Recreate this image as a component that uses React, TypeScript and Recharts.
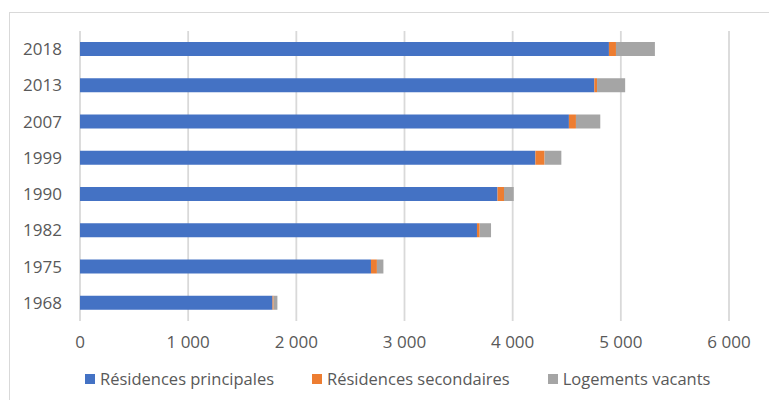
import { BarChart, Bar, XAxis, YAxis, CartesianGrid } from 'recharts';

const years = ['2018', '2013', '2007', '1999', '1990', '1982', '1975', '1968'];
const principales = [4890, 4755, 4520, 4210, 3860, 3670, 2690, 1780];
const secondaires = [65, 25, 65, 85, 60, 25, 55, 10];
const vacants = [360, 260, 225, 155, 90, 105, 60, 35];
const xTicks = [0, 1000, 2000, 3000, 4000, 5000, 6000];

const series = [
  { key: 'principales', label: 'Résidences principales', color: '#4472C4' },
  { key: 'secondaires', label: 'Résidences secondaires', color: '#ED7D31' },
  { key: 'vacants', label: 'Logements vacants', color: '#A5A5A5' },
];

const data = years.map((year, i) => ({
  year,
  principales: principales[i],
  secondaires: secondaires[i],
  vacants: vacants[i],
}));

const FONT = '"Open Sans", sans-serif';
const TEXT = '#595959';

// 1000 -> "1 000"
const fmt = (v: number) => String(v).replace(/\B(?=(\d{3})+(?!\d))/g, ' ');

function ChartLegend() {
  return (
    <div
      style={{
        position: 'absolute',
        top: 367,
        left: 85,
        display: 'flex',
        alignItems: 'center',
        fontFamily: FONT,
        fontSize: 16.5,
        color: TEXT,
        whiteSpace: 'nowrap',
      }}
    >
      {series.map((s, i) => (
        <div
          key={s.key}
          style={{ display: 'flex', alignItems: 'center', marginRight: i < series.length - 1 ? 38 : 0 }}
        >
          <span style={{ width: 10, height: 10, background: s.color, marginRight: 5, display: 'inline-block' }} />
          <span>{s.label}</span>
        </div>
      ))}
    </div>
  );
}

export default function App() {
  return (
    <div
      style={{
        position: 'absolute',
        left: 0,
        top: 0,
        width: 769,
        height: 400,
        overflow: 'hidden',
        background: '#fff',
      }}
    >
      <div
        style={{
          position: 'absolute',
          left: 9,
          top: 12,
          width: 800,
          height: 420,
          border: '1px solid #d9d9d9',
        }}
      />
      <BarChart
        width={769}
        height={400}
        data={data}
        layout="vertical"
        margin={{ top: 31, right: 40, bottom: 49, left: 0 }}
        barSize={14}
        style={{ position: 'absolute', left: 0, top: 0 }}
      >
        <CartesianGrid horizontal={false} stroke="#d9d9d9" strokeWidth={1.8} />
        <XAxis
          type="number"
          domain={[0, 6000]}
          ticks={xTicks}
          tickFormatter={fmt}
          axisLine={false}
          tickLine={false}
          tickSize={0}
          tickMargin={15}
          height={30}
          interval={0}
          tick={{ fill: TEXT, fontSize: 17, fontFamily: FONT }}
        />
        <YAxis
          type="category"
          dataKey="year"
          width={80}
          axisLine={false}
          tickLine={false}
          tickSize={0}
          tickMargin={18}
          interval={0}
          tick={{ fill: TEXT, fontSize: 17, fontFamily: FONT }}
        />
        {series.map((s) => (
          <Bar key={s.key} dataKey={s.key} name={s.label} stackId="a" fill={s.color} isAnimationActive={false} />
        ))}
      </BarChart>
      <ChartLegend />
    </div>
  );
}
